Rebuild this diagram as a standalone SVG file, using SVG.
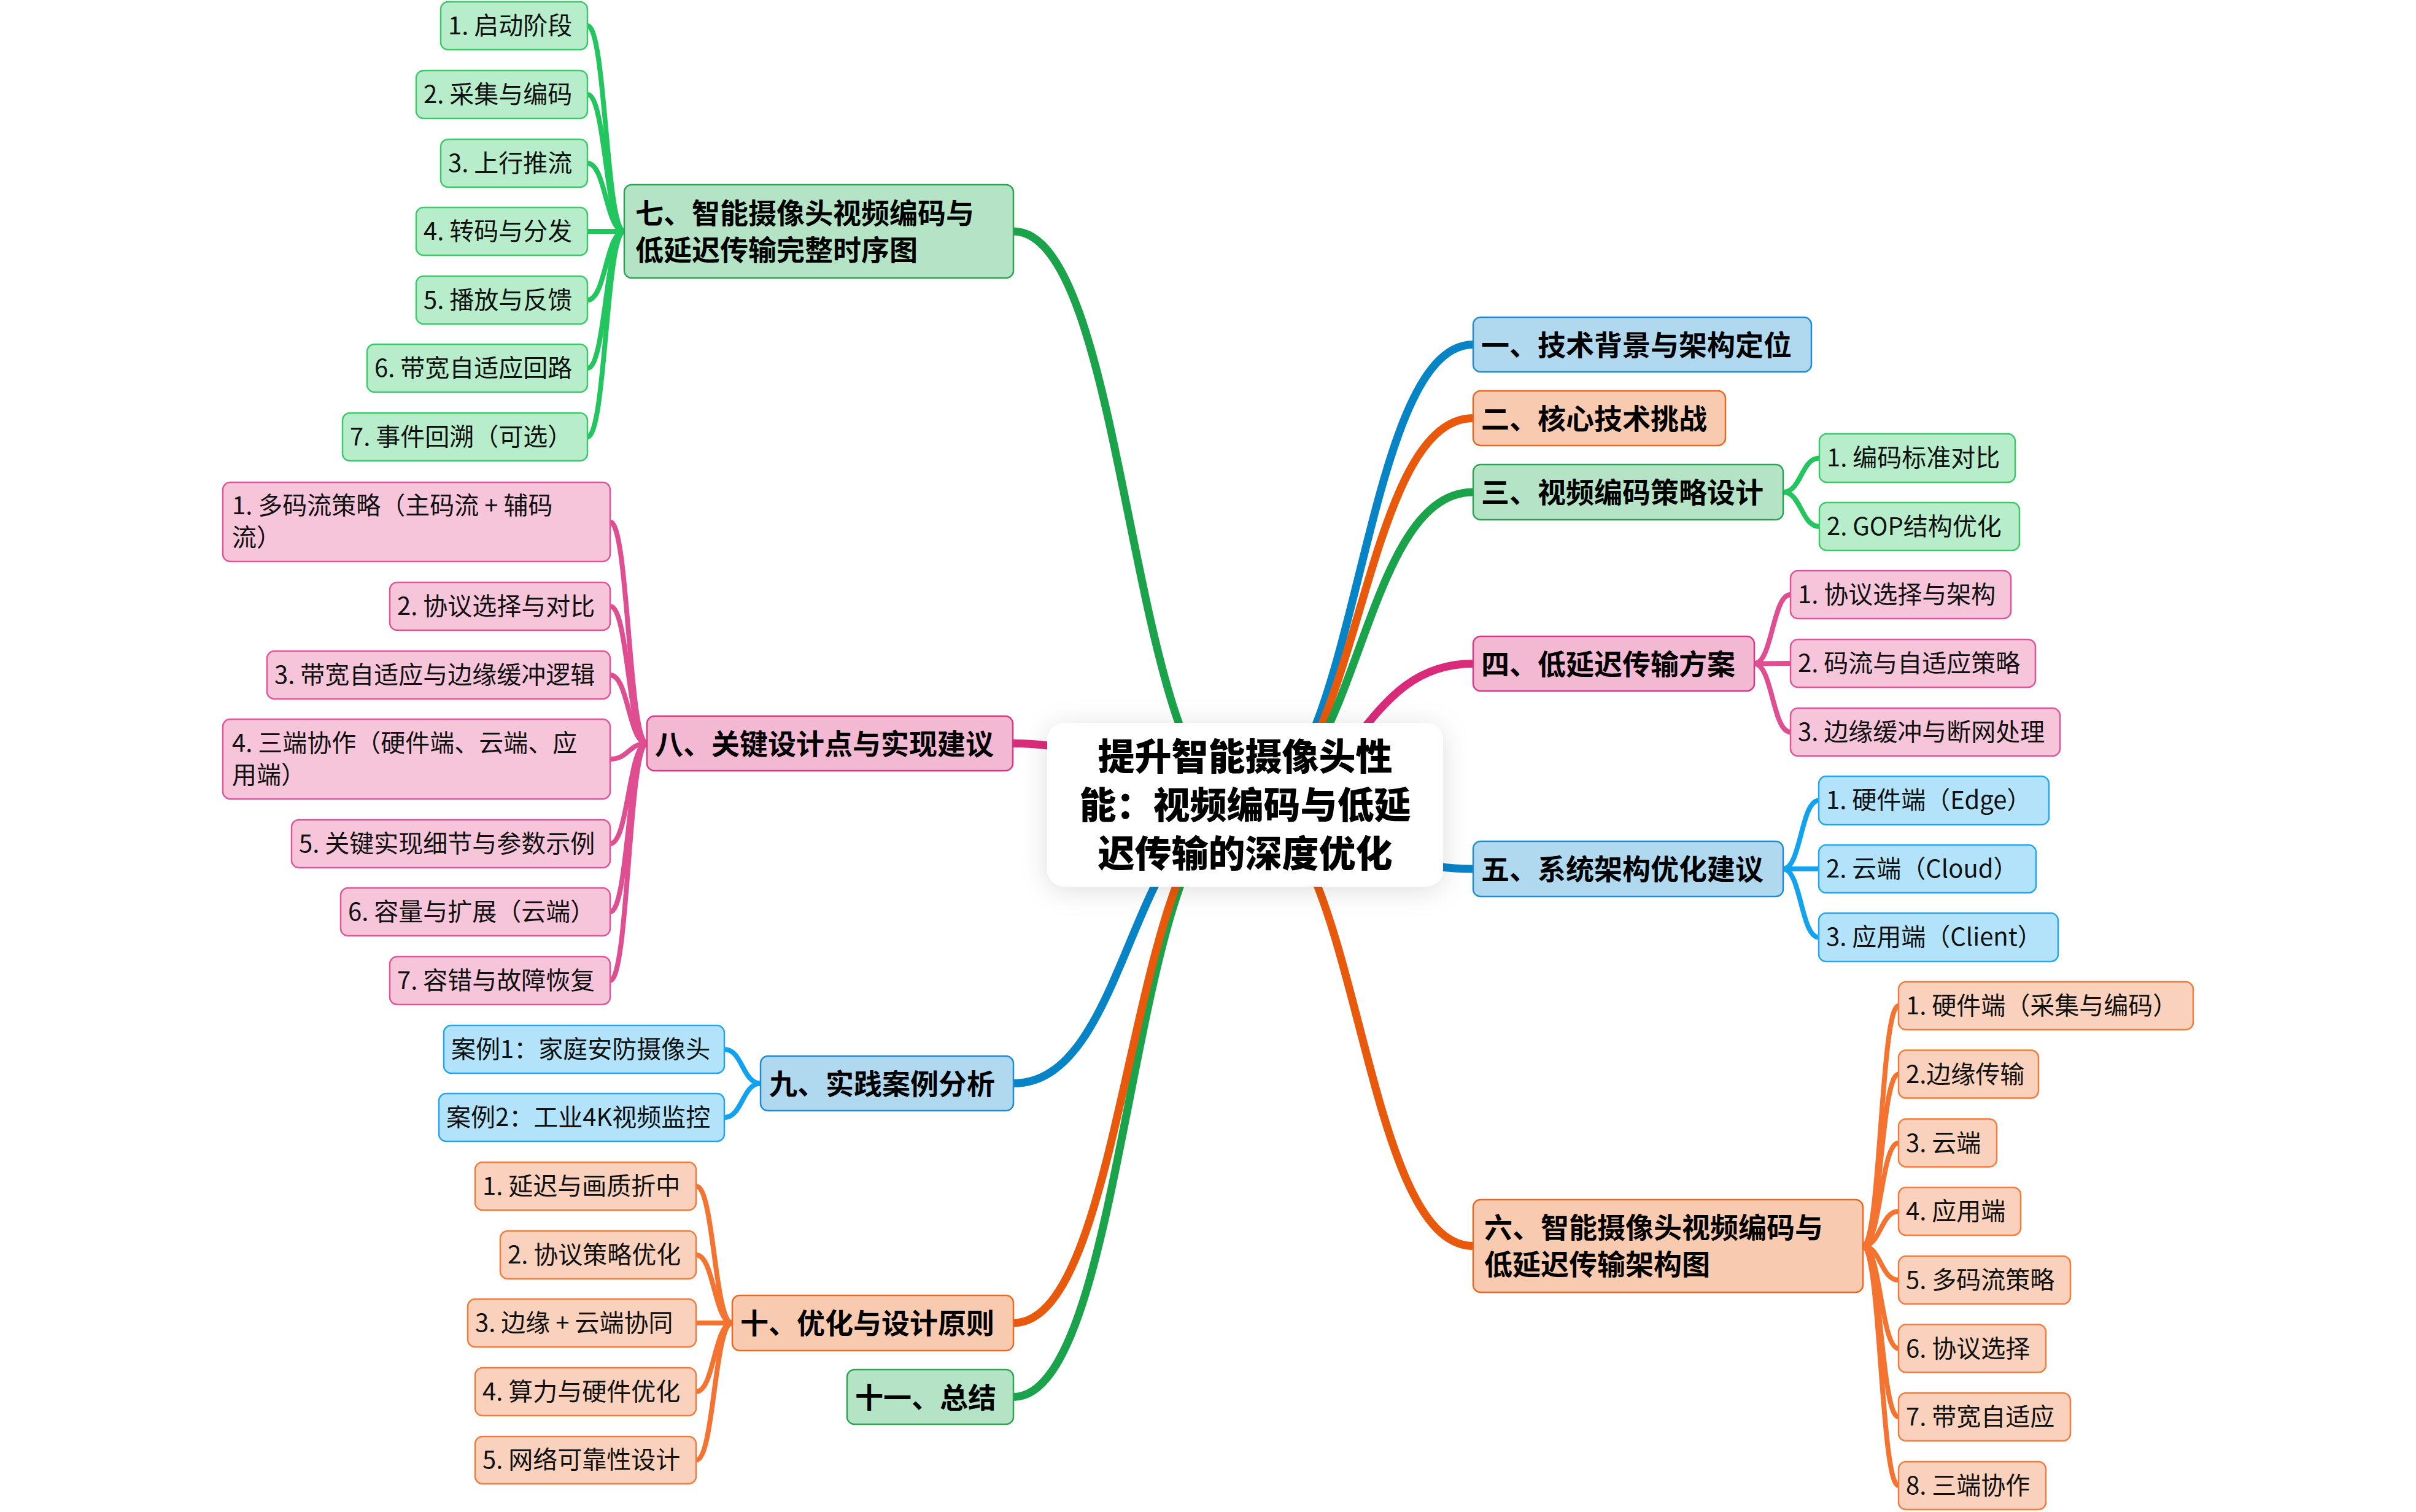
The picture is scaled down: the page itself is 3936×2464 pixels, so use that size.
<svg xmlns="http://www.w3.org/2000/svg" width="3936" height="2464" viewBox="0 0 3936 2464">
<defs>
<filter id="sh" x="-20%" y="-30%" width="140%" height="160%">
<feDropShadow dx="0" dy="6" stdDeviation="22" flood-color="#000" flood-opacity="0.13"/>
</filter>
</defs>
<style>
text{font-family:"Noto Sans CJK SC","Microsoft YaHei",sans-serif;fill:#000}
.t0{font-size:60px;font-weight:900;text-anchor:middle}
.t1{font-size:46px;font-weight:700}
.t2{font-size:40px;font-weight:400;fill:#111}
.n rect{stroke-width:2.5}
.l1b rect{fill:#b0d8ee;stroke:#1e8bd3}
.l1o rect{fill:#f8cbb1;stroke:#eb6722}
.l1g rect{fill:#b4e3c6;stroke:#2aa653}
.l1p rect{fill:#f3b9d3;stroke:#d93887}
.cb rect{fill:#b3e3fa;stroke:#22a7ee}
.co rect{fill:#fad1bc;stroke:#f37c3c}
.cg rect{fill:#b8edcb;stroke:#38cb68}
.cp rect{fill:#f6c5da;stroke:#e2539a}
.m{fill:none;stroke-width:13;stroke-linecap:round}
.s{fill:none;stroke-width:8;stroke-linecap:round}
.mb{stroke:#0784c6}.mo{stroke:#e8590c}.mg{stroke:#1aa34a}.mp{stroke:#da2b7a}
.sb{stroke:#13a3ee}.so{stroke:#f47330}.sg{stroke:#22c55e}.sp{stroke:#e04e92}
</style>
<rect width="3936" height="2464" fill="#fff"/>
<g id="connectors">
<path class="m mb" d="M2028 1312 C2214 1312 2214 561.5 2400 561.5"/>
<path class="m mo" d="M2028 1312 C2214 1312 2214 681.5 2400 681.5"/>
<path class="m mg" d="M2028 1312 C2214 1312 2214 802 2400 802"/>
<path class="m mp" d="M2028 1312 C2214 1312 2214 1081.5 2400 1081.5"/>
<path class="m mb" d="M2028 1312 C2214 1312 2214 1416 2400 1416"/>
<path class="m mo" d="M2028 1312 C2214 1312 2214 2030.5 2400 2030.5"/>
<path class="m mg" d="M2028 1312 C1839.5 1312 1839.5 377 1651 377"/>
<path class="m mp" d="M2028 1312 C1839.5 1312 1839.5 1211.5 1651 1211.5"/>
<path class="m mb" d="M2028 1312 C1839.5 1312 1839.5 1765.5 1651 1765.5"/>
<path class="m mg" d="M2028 1312 C1839.5 1312 1839.5 2276.5 1651 2276.5"/>
<path class="m mo" d="M2028 1312 C1839.5 1312 1839.5 2156 1651 2156"/>
<path class="s sg" d="M2905 802 C2934.5 802 2934.5 746.5 2964 746.5"/>
<path class="s sg" d="M2905 802 C2934.5 802 2934.5 858 2964 858"/>
<path class="s sp" d="M2858 1081.5 C2887.5 1081.5 2887.5 969 2917 969"/>
<path class="s sp" d="M2858 1081.5 C2887.5 1081.5 2887.5 1081 2917 1081"/>
<path class="s sp" d="M2858 1081.5 C2887.5 1081.5 2887.5 1193 2917 1193"/>
<path class="s sb" d="M2905 1416 C2934 1416 2934 1304.5 2963 1304.5"/>
<path class="s sb" d="M2905 1416 C2934 1416 2934 1416 2963 1416"/>
<path class="s sb" d="M2905 1416 C2934 1416 2934 1527.5 2963 1527.5"/>
<path class="s so" d="M3035 2030.5 C3064 2030.5 3064 1639 3093 1639"/>
<path class="s so" d="M3035 2030.5 C3064 2030.5 3064 1750.5 3093 1750.5"/>
<path class="s so" d="M3035 2030.5 C3064 2030.5 3064 1862.5 3093 1862.5"/>
<path class="s so" d="M3035 2030.5 C3064 2030.5 3064 1974 3093 1974"/>
<path class="s so" d="M3035 2030.5 C3064 2030.5 3064 2086 3093 2086"/>
<path class="s so" d="M3035 2030.5 C3064 2030.5 3064 2197.5 3093 2197.5"/>
<path class="s so" d="M3035 2030.5 C3064 2030.5 3064 2309 3093 2309"/>
<path class="s so" d="M3035 2030.5 C3064 2030.5 3064 2421 3093 2421"/>
<path class="s sg" d="M1017 377 C987 377 987 42 957 42"/>
<path class="s sg" d="M1017 377 C987 377 987 154 957 154"/>
<path class="s sg" d="M1017 377 C987 377 987 266 957 266"/>
<path class="s sg" d="M1017 377 C987 377 987 377 957 377"/>
<path class="s sg" d="M1017 377 C987 377 987 489 957 489"/>
<path class="s sg" d="M1017 377 C987 377 987 600 957 600"/>
<path class="s sg" d="M1017 377 C987 377 987 712 957 712"/>
<path class="s sp" d="M1054 1211.5 C1024 1211.5 1024 850.5 994 850.5"/>
<path class="s sp" d="M1054 1211.5 C1024 1211.5 1024 988 994 988"/>
<path class="s sp" d="M1054 1211.5 C1024 1211.5 1024 1100 994 1100"/>
<path class="s sp" d="M1054 1211.5 C1024 1211.5 1024 1237 994 1237"/>
<path class="s sp" d="M1054 1211.5 C1024 1211.5 1024 1375 994 1375"/>
<path class="s sp" d="M1054 1211.5 C1024 1211.5 1024 1486 994 1486"/>
<path class="s sp" d="M1054 1211.5 C1024 1211.5 1024 1598 994 1598"/>
<path class="s sb" d="M1239 1765.5 C1209.5 1765.5 1209.5 1710 1180 1710"/>
<path class="s sb" d="M1239 1765.5 C1209.5 1765.5 1209.5 1821 1180 1821"/>
<path class="s so" d="M1193 2156 C1163.5 2156 1163.5 1933 1134 1933"/>
<path class="s so" d="M1193 2156 C1163.5 2156 1163.5 2045 1134 2045"/>
<path class="s so" d="M1193 2156 C1163.5 2156 1163.5 2156 1134 2156"/>
<path class="s so" d="M1193 2156 C1163.5 2156 1163.5 2268 1134 2268"/>
<path class="s so" d="M1193 2156 C1163.5 2156 1163.5 2379.5 1134 2379.5"/>
</g>

<g id="root">
<rect x="1706" y="1178" width="645" height="267" rx="28" fill="#fff" filter="url(#sh)"/>
<text class="t0" x="2028.5" y="1255">提升智能摄像头性</text>
<text class="t0" x="2028.5" y="1334">能：视频编码与低延</text>
<text class="t0" x="2028.5" y="1413">迟传输的深度优化</text>
</g>

<g id="n1" class="n l1b"><rect x="2400" y="517" width="551" height="89" rx="12"/><text class="t1" x="2413" y="579">一、技术背景与架构定位</text></g>
<g id="n2" class="n l1o"><rect x="2400" y="637" width="411" height="89" rx="12"/><text class="t1" x="2413" y="699">二、核心技术挑战</text></g>
<g id="n3" class="n l1g"><rect x="2400" y="757" width="505" height="90" rx="12"/><text class="t1" x="2413" y="819">三、视频编码策略设计</text></g>
<g id="n3-1" class="n cg"><rect x="2964" y="707" width="319" height="79" rx="12"/><text class="t2" x="2976" y="760">1. 编码标准对比</text></g>
<g id="n3-2" class="n cg"><rect x="2964" y="819" width="326" height="78" rx="12"/><text class="t2" x="2976" y="872">2. GOP结构优化</text></g>

<g id="n4" class="n l1p"><rect x="2400" y="1037" width="458" height="89" rx="12"/><text class="t1" x="2413" y="1099">四、低延迟传输方案</text></g>
<g id="n4-1" class="n cp"><rect x="2917" y="930" width="359" height="78" rx="12"/><text class="t2" x="2929" y="983">1. 协议选择与架构</text></g>
<g id="n4-2" class="n cp"><rect x="2917" y="1042" width="399" height="78" rx="12"/><text class="t2" x="2929" y="1095">2. 码流与自适应策略</text></g>
<g id="n4-3" class="n cp"><rect x="2917" y="1154" width="439" height="78" rx="12"/><text class="t2" x="2929" y="1207">3. 边缘缓冲与断网处理</text></g>

<g id="n5" class="n l1b"><rect x="2400" y="1371" width="505" height="90" rx="12"/><text class="t1" x="2413" y="1433">五、系统架构优化建议</text></g>
<g id="n5-1" class="n cb"><rect x="2963" y="1265" width="375" height="79" rx="12"/><text class="t2" x="2975" y="1318">1. 硬件端（Edge）</text></g>
<g id="n5-2" class="n cb"><rect x="2963" y="1377" width="354" height="78" rx="12"/><text class="t2" x="2975" y="1430">2. 云端（Cloud）</text></g>
<g id="n5-3" class="n cb"><rect x="2963" y="1488" width="390" height="79" rx="12"/><text class="t2" x="2975" y="1541">3. 应用端（Client）</text></g>

<g id="n6" class="n l1o"><rect x="2400" y="1955" width="635" height="151" rx="12"/><text class="t1" x="2418" y="2017">六、智能摄像头视频编码与</text><text class="t1" x="2418" y="2077">低延迟传输架构图</text></g>
<g id="n6-1" class="n co"><rect x="3093" y="1600" width="480" height="78" rx="12"/><text class="t2" x="3105" y="1653">1. 硬件端（采集与编码）</text></g>
<g id="n6-2" class="n co"><rect x="3093" y="1711.5" width="228" height="78" rx="12"/><text class="t2" x="3105" y="1764.5">2.边缘传输</text></g>
<g id="n6-3" class="n co"><rect x="3093" y="1823.5" width="160" height="78" rx="12"/><text class="t2" x="3105" y="1876.5">3. 云端</text></g>
<g id="n6-4" class="n co"><rect x="3093" y="1935" width="199" height="78" rx="12"/><text class="t2" x="3105" y="1988">4. 应用端</text></g>
<g id="n6-5" class="n co"><rect x="3093" y="2047" width="280" height="78" rx="12"/><text class="t2" x="3105" y="2100">5. 多码流策略</text></g>
<g id="n6-6" class="n co"><rect x="3093" y="2158.5" width="240" height="78" rx="12"/><text class="t2" x="3105" y="2211.5">6. 协议选择</text></g>
<g id="n6-7" class="n co"><rect x="3093" y="2270" width="280" height="78" rx="12"/><text class="t2" x="3105" y="2323">7. 带宽自适应</text></g>
<g id="n6-8" class="n co"><rect x="3093" y="2382" width="240" height="78" rx="12"/><text class="t2" x="3105" y="2435">8. 三端协作</text></g>

<g id="n7" class="n l1g"><rect x="1017" y="301" width="634" height="152" rx="12"/><text class="t1" x="1035" y="364">七、智能摄像头视频编码与</text><text class="t1" x="1035" y="424">低延迟传输完整时序图</text></g>
<g id="n7-1" class="n cg"><rect x="718" y="3" width="239" height="78" rx="12"/><text class="t2" x="730" y="56">1. 启动阶段</text></g>
<g id="n7-2" class="n cg"><rect x="678" y="115" width="279" height="78" rx="12"/><text class="t2" x="690" y="168">2. 采集与编码</text></g>
<g id="n7-3" class="n cg"><rect x="718" y="227" width="239" height="78" rx="12"/><text class="t2" x="730" y="280">3. 上行推流</text></g>
<g id="n7-4" class="n cg"><rect x="678" y="338" width="279" height="78" rx="12"/><text class="t2" x="690" y="391">4. 转码与分发</text></g>
<g id="n7-5" class="n cg"><rect x="678" y="450" width="279" height="78" rx="12"/><text class="t2" x="690" y="503">5. 播放与反馈</text></g>
<g id="n7-6" class="n cg"><rect x="598" y="561" width="359" height="78" rx="12"/><text class="t2" x="610" y="614">6. 带宽自适应回路</text></g>
<g id="n7-7" class="n cg"><rect x="558" y="673" width="399" height="78" rx="12"/><text class="t2" x="570" y="726">7. 事件回溯（可选）</text></g>

<g id="n8" class="n l1p"><rect x="1054" y="1167" width="596" height="89" rx="12"/><text class="t1" x="1067" y="1229">八、关键设计点与实现建议</text></g>
<g id="n8-1" class="n cp"><rect x="363" y="786" width="631" height="129" rx="12"/><text class="t2" x="378" y="838">1. 多码流策略（主码流 + 辅码</text><text class="t2" x="378" y="890">流）</text></g>
<g id="n8-2" class="n cp"><rect x="635" y="949" width="359" height="78" rx="12"/><text class="t2" x="647" y="1002">2. 协议选择与对比</text></g>
<g id="n8-3" class="n cp"><rect x="435" y="1061" width="559" height="78" rx="12"/><text class="t2" x="447" y="1114">3. 带宽自适应与边缘缓冲逻辑</text></g>
<g id="n8-4" class="n cp"><rect x="363" y="1172" width="631" height="130" rx="12"/><text class="t2" x="378" y="1225">4. 三端协作（硬件端、云端、应</text><text class="t2" x="378" y="1277">用端）</text></g>
<g id="n8-5" class="n cp"><rect x="475" y="1336" width="519" height="78" rx="12"/><text class="t2" x="487" y="1389">5. 关键实现细节与参数示例</text></g>
<g id="n8-6" class="n cp"><rect x="555" y="1447" width="439" height="78" rx="12"/><text class="t2" x="567" y="1500">6. 容量与扩展（云端）</text></g>
<g id="n8-7" class="n cp"><rect x="635" y="1559" width="359" height="78" rx="12"/><text class="t2" x="647" y="1612">7. 容错与故障恢复</text></g>

<g id="n9" class="n l1b"><rect x="1239" y="1721" width="412" height="89" rx="12"/><text class="t1" x="1253" y="1783">九、实践案例分析</text></g>
<g id="n9-1" class="n cb"><rect x="723" y="1671" width="457" height="78" rx="12"/><text class="t2" x="735" y="1724">案例1：家庭安防摄像头</text></g>
<g id="n9-2" class="n cb"><rect x="715" y="1782" width="465" height="78" rx="12"/><text class="t2" x="727" y="1835">案例2：工业4K视频监控</text></g>

<g id="n10" class="n l1o"><rect x="1193" y="2111" width="458" height="90" rx="12"/><text class="t1" x="1206" y="2173">十、优化与设计原则</text></g>
<g id="n10-1" class="n co"><rect x="774" y="1894" width="360" height="78" rx="12"/><text class="t2" x="786" y="1947">1. 延迟与画质折中</text></g>
<g id="n10-2" class="n co"><rect x="815" y="2006" width="319" height="78" rx="12"/><text class="t2" x="827" y="2059">2. 协议策略优化</text></g>
<g id="n10-3" class="n co"><rect x="762" y="2117" width="372" height="78" rx="12"/><text class="t2" x="774" y="2170">3. 边缘 + 云端协同</text></g>
<g id="n10-4" class="n co"><rect x="774" y="2229" width="360" height="78" rx="12"/><text class="t2" x="786" y="2282">4. 算力与硬件优化</text></g>
<g id="n10-5" class="n co"><rect x="774" y="2341" width="360" height="77" rx="12"/><text class="t2" x="786" y="2393">5. 网络可靠性设计</text></g>

<g id="n11" class="n l1g"><rect x="1380" y="2232" width="271" height="89" rx="12"/><text class="t1" x="1393" y="2294">十一、总结</text></g>
</svg>
